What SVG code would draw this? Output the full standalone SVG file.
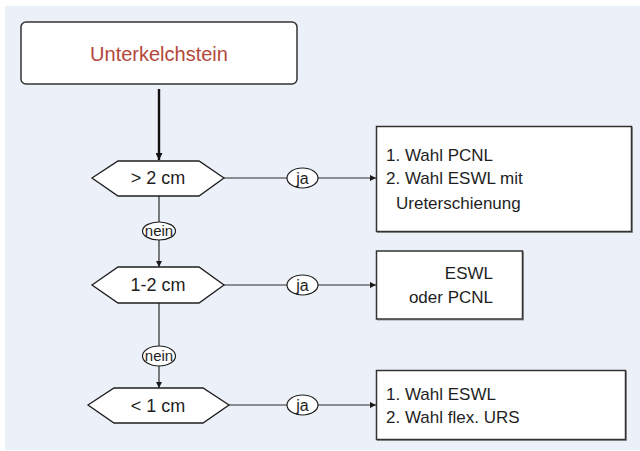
<svg xmlns="http://www.w3.org/2000/svg" width="640" height="451" viewBox="0 0 640 451">
  <defs>
    <marker id="arrow" viewBox="0 0 8 8" refX="8" refY="4" markerWidth="6" markerHeight="6" markerUnits="userSpaceOnUse" orient="auto">
      <path d="M0,0 L8,4 L0,8 Z" fill="#1a1a1a"/>
    </marker>
    <marker id="arrowBig" viewBox="0 0 8 8" refX="8" refY="4" markerWidth="8" markerHeight="7" markerUnits="userSpaceOnUse" orient="auto">
      <path d="M0,0 L8,4 L0,8 Z" fill="#111"/>
    </marker>
    <style>
      text { font-family: "Liberation Sans", Arial, sans-serif; fill: #1e1e1e; }
      .box { fill: #ffffff; stroke: #333333; stroke-width: 1.5; }
      .shadow { fill: none; stroke: #9a9a9a; stroke-width: 1; }
      .hex { fill: #ffffff; stroke: #1e1e1e; stroke-width: 1.3; }
      .oval { fill: #ffffff; stroke: #1e1e1e; stroke-width: 1.2; }
      .line { fill: none; stroke: #2a2a2a; stroke-width: 1.2; }
      .hexlabel { font-size: 18px; text-anchor: middle; }
      .boxlabel { font-size: 17px; }
      .yes { font-size: 16px; text-anchor: middle; }
      .no { font-size: 15px; text-anchor: middle; }
    </style>
  </defs>

  <!-- panel background -->
  <rect x="5" y="6" width="635" height="444" fill="#ecf0f8"/>

  <!-- connectors -->
  <g id="connectors">
    <line x1="159" y1="89" x2="159" y2="160" stroke="#111" stroke-width="2.4" marker-end="url(#arrowBig)"/>

    <line class="line" x1="224" y1="178" x2="287" y2="178"/>
    <line class="line" x1="318" y1="178" x2="376" y2="178" marker-end="url(#arrow)"/>
    <line class="line" x1="159" y1="196" x2="159" y2="222"/>
    <line class="line" x1="159" y1="240" x2="159" y2="267" marker-end="url(#arrow)"/>

    <line class="line" x1="224" y1="285" x2="287" y2="285"/>
    <line class="line" x1="318" y1="285" x2="376" y2="285" marker-end="url(#arrow)"/>
    <line class="line" x1="159" y1="303" x2="159" y2="346"/>
    <line class="line" x1="159" y1="366" x2="159" y2="388" marker-end="url(#arrow)"/>

    <line class="line" x1="229" y1="405" x2="287" y2="405"/>
    <line class="line" x1="318" y1="405" x2="376" y2="405" marker-end="url(#arrow)"/>
  </g>

  <!-- start node -->
  <g id="start">
    <rect x="21" y="22" width="276" height="62" rx="5" ry="5" class="box"/>
    <text x="159" y="61" font-size="20" text-anchor="middle" style="fill:#b5473a">Unterkelchstein</text>
  </g>

  <!-- decisions -->
  <g id="decision-gt2">
    <polygon class="hex" points="92,178 118,161 199,161 224,178 199,196 118,196"/>
    <text x="158" y="184" class="hexlabel">&gt; 2 cm</text>
  </g>
  <g id="decision-1to2">
    <polygon class="hex" points="92,285 118,267 199,267 224,285 199,303 118,303"/>
    <text x="158" y="291" class="hexlabel">1-2 cm</text>
  </g>
  <g id="decision-lt1">
    <polygon class="hex" points="88,405 114,388 203,388 229,405 203,423 114,423"/>
    <text x="158" y="412" class="hexlabel">&lt; 1 cm</text>
  </g>

  <!-- branch labels -->
  <g id="yes-1">
    <ellipse class="oval" cx="302.5" cy="178" rx="15.5" ry="10"/>
    <text x="302.5" y="183.5" class="yes">ja</text>
  </g>
  <g id="yes-2">
    <ellipse class="oval" cx="302.5" cy="285" rx="15.5" ry="10"/>
    <text x="302.5" y="290.5" class="yes">ja</text>
  </g>
  <g id="yes-3">
    <ellipse class="oval" cx="302.5" cy="405" rx="15.5" ry="10"/>
    <text x="302.5" y="410.5" class="yes">ja</text>
  </g>
  <g id="no-1">
    <ellipse class="oval" cx="159" cy="231" rx="16.5" ry="9"/>
    <text x="159" y="236" class="no">nein</text>
  </g>
  <g id="no-2">
    <ellipse class="oval" cx="159" cy="356" rx="16.5" ry="10"/>
    <text x="159" y="361" class="no">nein</text>
  </g>

  <!-- outcomes -->
  <g id="result-gt2">
    <rect x="377.5" y="127.5" width="255" height="105" class="shadow"/>
    <rect x="376.5" y="126.5" width="255" height="105" class="box"/>
    <text x="386" y="161" class="boxlabel">1. Wahl PCNL</text>
    <text x="386" y="184" class="boxlabel">2. Wahl ESWL mit</text>
    <text x="396" y="209" class="boxlabel">Ureterschienung</text>
  </g>
  <g id="result-1to2">
    <rect x="377.5" y="252" width="146" height="68" class="shadow"/>
    <rect x="376.5" y="251" width="146" height="68" class="box"/>
    <text x="493" y="279" class="boxlabel" text-anchor="end">ESWL</text>
    <text x="493" y="303" class="boxlabel" text-anchor="end">oder PCNL</text>
  </g>
  <g id="result-lt1">
    <rect x="377.5" y="371.5" width="249" height="69" class="shadow"/>
    <rect x="376.5" y="370.5" width="249" height="69" class="box"/>
    <text x="386" y="400" class="boxlabel">1. Wahl ESWL</text>
    <text x="386" y="423" class="boxlabel">2. Wahl flex. URS</text>
  </g>
</svg>
